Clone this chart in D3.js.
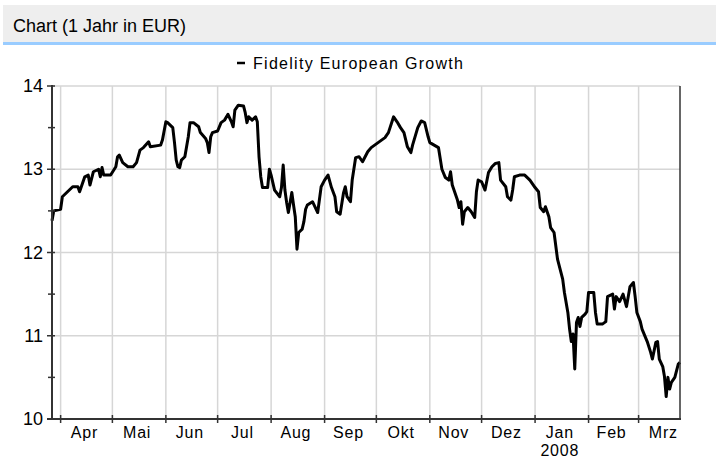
<!DOCTYPE html>
<html>
<head>
<meta charset="utf-8">
<script src="https://cdn.jsdelivr.net/npm/d3@7"></script>
<style>
  body { margin: 0; background: #fff; }
  text { font-family: Arial, "Liberation Sans", sans-serif; fill: #000; }
</style>
</head>
<body>
<svg id="chart" width="716" height="459"></svg>
<script>
// fund prices
const seriesName = "Fidelity European Growth";
const dates = [
  "2007-03-27","2007-03-28","2007-04-01","2007-04-02","2007-04-05","2007-04-08","2007-04-11","2007-04-12",
  "2007-04-15","2007-04-17","2007-04-18","2007-04-20","2007-04-23","2007-04-24","2007-04-25","2007-04-26",
  "2007-04-30","2007-05-03","2007-05-04","2007-05-05","2007-05-07","2007-05-10","2007-05-13","2007-05-15",
  "2007-05-17","2007-05-19","2007-05-22","2007-05-23","2007-05-29","2007-05-30","2007-06-01","2007-06-02",
  "2007-06-05","2007-06-06","2007-06-07","2007-06-08","2007-06-09","2007-06-10","2007-06-12","2007-06-14",
  "2007-06-15","2007-06-17","2007-06-20","2007-06-21","2007-06-24","2007-06-25","2007-06-26","2007-06-27",
  "2007-06-28","2007-07-01","2007-07-03","2007-07-05","2007-07-07","2007-07-09","2007-07-10","2007-07-11",
  "2007-07-13","2007-07-16","2007-07-17","2007-07-18","2007-07-19","2007-07-21","2007-07-23","2007-07-24",
  "2007-07-25","2007-07-26","2007-07-27","2007-07-30","2007-07-31","2007-08-01","2007-08-02","2007-08-03",
  "2007-08-06","2007-08-07","2007-08-08","2007-08-09","2007-08-10","2007-08-11","2007-08-13","2007-08-14",
  "2007-08-15","2007-08-16","2007-08-17","2007-08-19","2007-08-20","2007-08-21","2007-08-22","2007-08-25",
  "2007-08-28","2007-08-30","2007-09-01","2007-09-03","2007-09-05","2007-09-07","2007-09-08","2007-09-10",
  "2007-09-12","2007-09-13","2007-09-14","2007-09-16","2007-09-17","2007-09-19","2007-09-21","2007-09-23",
  "2007-09-26","2007-09-28","2007-10-02","2007-10-04","2007-10-06","2007-10-08","2007-10-11","2007-10-13",
  "2007-10-15","2007-10-17","2007-10-19","2007-10-21","2007-10-22","2007-10-25","2007-10-27","2007-10-29",
  "2007-10-31","2007-11-01","2007-11-06","2007-11-08","2007-11-10","2007-11-12","2007-11-13","2007-11-14",
  "2007-11-17","2007-11-18","2007-11-19","2007-11-20","2007-11-21","2007-11-23","2007-11-25","2007-11-27",
  "2007-11-28","2007-11-29","2007-12-01","2007-12-03","2007-12-05","2007-12-07","2007-12-09","2007-12-11",
  "2007-12-12","2007-12-15","2007-12-16","2007-12-18","2007-12-19","2007-12-20","2007-12-23","2007-12-26",
  "2007-12-29","2008-01-01","2008-01-03","2008-01-04","2008-01-06","2008-01-07","2008-01-09","2008-01-10",
  "2008-01-12","2008-01-14","2008-01-17","2008-01-18","2008-01-20","2008-01-21","2008-01-22","2008-01-23",
  "2008-01-24","2008-01-25","2008-01-26","2008-01-27","2008-01-28","2008-01-30","2008-01-31","2008-02-01",
  "2008-02-04","2008-02-05","2008-02-06","2008-02-09","2008-02-11","2008-02-12","2008-02-15","2008-02-16",
  "2008-02-17","2008-02-19","2008-02-21","2008-02-23","2008-02-25","2008-02-27","2008-02-28","2008-02-29",
  "2008-03-02","2008-03-03","2008-03-06","2008-03-08","2008-03-09","2008-03-11","2008-03-12","2008-03-13",
  "2008-03-15","2008-03-16","2008-03-17","2008-03-18","2008-03-19","2008-03-20","2008-03-22","2008-03-24",
  "2008-03-25"
];
const prices = [
  12.38,12.50,12.52,12.67,12.73,12.79,12.79,12.73,
  12.91,12.93,12.81,12.97,13.00,12.91,13.02,12.93,
  12.93,13.03,13.15,13.17,13.08,13.03,13.03,13.08,
  13.23,13.26,13.33,13.27,13.29,13.35,13.57,13.56,
  13.50,13.32,13.11,13.03,13.02,13.11,13.15,13.39,
  13.56,13.56,13.51,13.44,13.37,13.32,13.20,13.39,
  13.44,13.46,13.56,13.59,13.66,13.57,13.51,13.71,
  13.77,13.76,13.68,13.56,13.63,13.59,13.63,13.57,
  13.15,12.91,12.78,12.78,13.00,12.93,12.84,12.75,
  12.67,12.78,13.05,12.75,12.60,12.48,12.72,12.57,
  12.43,12.04,12.24,12.28,12.37,12.52,12.57,12.61,
  12.48,12.79,12.87,12.93,12.78,12.67,12.49,12.46,
  12.72,12.79,12.67,12.61,12.87,13.14,13.15,13.09,
  13.21,13.26,13.32,13.35,13.38,13.44,13.63,13.57,
  13.50,13.44,13.27,13.20,13.29,13.50,13.58,13.56,
  13.39,13.32,13.26,13.00,12.90,12.87,12.97,12.81,
  12.63,12.54,12.61,12.34,12.49,12.54,12.49,12.42,
  12.73,12.87,12.85,12.75,12.96,13.03,13.07,13.08,
  12.87,12.79,12.67,12.63,12.75,12.91,12.93,12.93,
  12.87,12.78,12.73,12.54,12.49,12.55,12.43,12.30,
  12.24,11.92,11.68,11.52,11.28,11.08,10.93,11.02,
  10.60,11.16,11.22,11.11,11.22,11.26,11.29,11.52,
  11.52,11.28,11.14,11.14,11.17,11.47,11.50,11.32,
  11.47,11.41,11.50,11.35,11.59,11.64,11.47,11.28,
  11.17,11.08,10.93,10.80,10.72,10.92,10.93,10.72,
  10.63,10.51,10.27,10.50,10.36,10.44,10.50,10.66,
  10.68
];
const monthLabels = ["Apr","Mai","Jun","Jul","Aug","Sep","Okt","Nov","Dez","Jan","Feb","Mrz"];
const yTicks = [10, 11, 12, 13, 14];

const parse = d3.timeParse("%Y-%m-%d");
const data = dates.map((d, i) => ({ date: parse(d), value: prices[i] }));

const svg = d3.select("#chart");
const plot = { left: 52, right: 680, top: 86, bottom: 419 };

// header bar
svg.append("rect").attr("x", 3).attr("y", 5).attr("width", 713).attr("height", 37).attr("fill", "#eeeeee");
svg.append("rect").attr("x", 3).attr("y", 42).attr("width", 713).attr("height", 3).attr("fill", "#99ccff");
svg.append("text").attr("x", 13).attr("y", 32).style("font-size", "18px").text("Chart (1 Jahr in EUR)");

const x = d3.scaleTime()
    .domain([parse("2007-03-27"), parse("2008-03-25")])
    .range([plot.left, plot.right]);

const y = d3.scaleLinear()
    .domain([10, 14])
    .range([plot.bottom, plot.top]);

const months = d3.timeMonth.range(parse("2007-04-01"), parse("2008-03-02"));

// grid
const grid = svg.append("g").attr("stroke", "#d6d6d6").attr("stroke-width", 1.5);
grid.selectAll("line.v").data(months).join("line")
    .attr("class", "v")
    .attr("x1", d => x(d)).attr("x2", d => x(d))
    .attr("y1", plot.top).attr("y2", plot.bottom);
grid.selectAll("line.h").data(yTicks.slice(1)).join("line")
    .attr("class", "h")
    .attr("x1", plot.left).attr("x2", plot.right)
    .attr("y1", d => y(d)).attr("y2", d => y(d));

// price line
const line = d3.line().x(d => x(d.date)).y(d => y(d.value));
svg.append("path")
    .datum(data)
    .attr("fill", "none")
    .attr("stroke", "#000")
    .attr("stroke-width", 3)
    .attr("stroke-linejoin", "round")
    .attr("d", line);

// axes
const axisColor = "#333";
svg.append("line").attr("x1", plot.left).attr("x2", plot.left)
    .attr("y1", plot.top - 1).attr("y2", plot.bottom + 1)
    .attr("stroke", axisColor).attr("stroke-width", 2);
svg.append("line").attr("x1", plot.left - 5).attr("x2", plot.right + 1)
    .attr("y1", plot.bottom).attr("y2", plot.bottom)
    .attr("stroke", axisColor).attr("stroke-width", 2);
svg.append("line").attr("x1", plot.right).attr("x2", plot.right)
    .attr("y1", plot.top).attr("y2", plot.bottom)
    .attr("stroke", axisColor).attr("stroke-width", 1.5);

// y ticks, major and half steps
const halfTicks = d3.range(10.5, 14, 1);
svg.selectAll("line.ymaj").data(yTicks).join("line")
    .attr("x1", plot.left - 5).attr("x2", plot.left + 3)
    .attr("y1", d => y(d)).attr("y2", d => y(d))
    .attr("stroke", axisColor).attr("stroke-width", 1.5);
svg.selectAll("line.ymin").data(halfTicks).join("line")
    .attr("x1", plot.left - 4).attr("x2", plot.left + 3)
    .attr("y1", d => y(d)).attr("y2", d => y(d))
    .attr("stroke", axisColor).attr("stroke-width", 1.5);
svg.selectAll("text.ylab").data(yTicks).join("text")
    .attr("x", 43).attr("y", d => y(d) + 6)
    .attr("text-anchor", "end")
    .style("font-size", "18px")
    .text(d => d);

// x ticks at month starts, labels in the middle of the month
svg.selectAll("line.xt").data(months).join("line")
    .attr("x1", d => x(d)).attr("x2", d => x(d))
    .attr("y1", plot.bottom - 4).attr("y2", plot.bottom + 4)
    .attr("stroke", axisColor).attr("stroke-width", 1.5);
svg.selectAll("text.xlab").data(months).join("text")
    .attr("x", d => (x(d) + x(d3.timeMonth.offset(d, 1))) / 2 - 2)
    .attr("y", 438)
    .attr("text-anchor", "middle")
    .style("font-size", "16px")
    .style("letter-spacing", "0.8px")
    .text((d, i) => monthLabels[i]);
svg.append("text")
    .attr("x", (x(parse("2008-01-01")) + x(parse("2008-02-01"))) / 2 - 2)
    .attr("y", 456)
    .attr("text-anchor", "middle")
    .style("font-size", "16px")
    .style("letter-spacing", "0.8px")
    .text("2008");

// legend
svg.append("line").attr("x1", 237).attr("x2", 245).attr("y1", 63).attr("y2", 63)
    .attr("stroke", "#000").attr("stroke-width", 2.5);
svg.append("text").attr("x", 253).attr("y", 69)
    .attr("textLength", 210)
    .attr("lengthAdjust", "spacing")
    .style("font-size", "16px")
    .text(seriesName);
</script>
</body>
</html>
